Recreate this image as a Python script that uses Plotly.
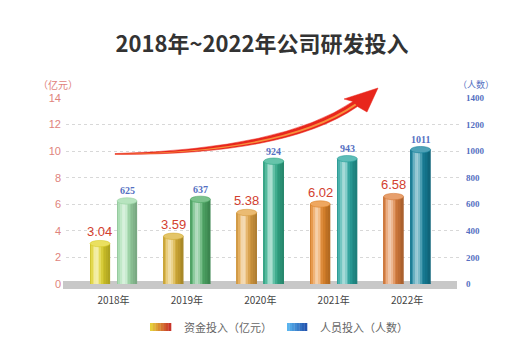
import math
import plotly.graph_objects as go

categories = ["2018年", "2019年", "2020年", "2021年", "2022年"]
funds = [3.04, 3.59, 5.38, 6.02, 6.58]          # 资金投入（亿元）
staff = [625, 637, 924, 943, 1011]              # 人员投入（人数）
left_ticks = [0, 2, 4, 6, 8, 10, 12, 14]
right_ticks = [0, 200, 400, 600, 800, 1000, 1200, 1400]

fund_colors = ["#e3d62c", "#dcb236", "#e5a544", "#e98a2c", "#df7f3c"]
staff_colors = ["#9fdcaa", "#4fae68", "#34b18e", "#27a6a0", "#15849f"]

W, H = 524, 356
L, R, T, B = 66, 65, 98, 72
PW, PH = W - L - R, H - T - B

def px(x):
    return (x - L) / PW

def py(y):
    return (H - B - y) / PH

def hex2rgb(h):
    h = h.lstrip("#")
    return [int(h[i:i + 2], 16) for i in (0, 2, 4)]

def shade(h, t):
    r = hex2rgb(h)
    light = 0.6 * math.exp(-((t - 0.35) / 0.2) ** 2)
    dark = 0.25 * max(0.0, t - 0.5) * 2 + 0.12 * max(0.0, 0.15 - t) / 0.15
    out = []
    for c in r:
        c = c + (255 - c) * light
        c = c * (1 - dark)
        out.append(int(max(0, min(255, c))))
    return "rgb(%d,%d,%d)" % tuple(out)

def adjust(h, f):
    r = hex2rgb(h)
    if f >= 0:
        r = [int(c + (255 - c) * f) for c in r]
    else:
        r = [int(c * (1 + f)) for c in r]
    return "rgb(%d,%d,%d)" % tuple(r)

xs = list(range(len(categories)))
BW = 0.272
OFF = 0.184
N = 12

fig = go.Figure()
shapes = []

# floor
shapes.append(dict(type="rect", xref="paper", yref="paper", x0=px(63), x1=px(457),
                   y0=py(289), y1=py(281), fillcolor="#c8c8c8", line_width=0, layer="below"))

def add_bars(vals, colors, center_off, yaxis, capmul):
    yref = "y" if yaxis == "y" else "y2"
    for i in range(N):
        t = (i + 0.5) / N
        fig.add_trace(go.Bar(
            x=xs, y=vals, yaxis=yaxis, width=BW / N + 0.002,
            offset=center_off - BW / 2 + i * BW / N,
            marker=dict(color=[shade(c, t) for c in colors], line_width=0),
            showlegend=False, hoverinfo="skip"))
    eh = 3.2 * capmul
    for x, v, c in zip(xs, vals, colors):
        cx = x + center_off
        shapes.append(dict(type="circle", xref="x", yref=yref,
                           x0=cx - BW / 2, x1=cx + BW / 2, y0=-eh, y1=eh,
                           fillcolor=adjust(c, -0.1), line_width=0, layer="below"))
        shapes.append(dict(type="circle", xref="x", yref=yref,
                           x0=cx - BW / 2, x1=cx + BW / 2, y0=v - eh, y1=v + eh,
                           fillcolor=adjust(c, 0.25), line=dict(color=adjust(c, -0.05), width=0.6),
                           layer="above"))

add_bars(funds, fund_colors, -OFF, "y", 14 / PH)
add_bars(staff, staff_colors, OFF, "y2", 1400 / PH)

annotations = []
for x, v in zip(xs, funds):
    annotations.append(dict(x=x - OFF, y=v, xref="x", yref="y", text="%.2f" % v,
                            showarrow=False, yshift=12,
                            font=dict(family="Liberation Sans, Arial", size=13, color="#d2402f")))
for x, v in zip(xs, staff):
    annotations.append(dict(x=x + OFF, y=v, xref="x", yref="y2", text=str(v),
                            showarrow=False, yshift=10,
                            font=dict(family="Liberation Serif", size=10, color="#5570c2", weight="bold")))

annotations.append(dict(x=px(58), y=py(84), xref="paper", yref="paper", text="（亿元）",
                        xanchor="center", yanchor="middle",
                        showarrow=False, font=dict(family="Noto Sans CJK SC", size=10, color="#e0837c")))
annotations.append(dict(x=px(476), y=py(84), xref="paper", yref="paper", text="（人数）",
                        xanchor="center", yanchor="middle",
                        showarrow=False, font=dict(family="Noto Sans CJK SC", size=9, color="#5570c2")))

# arrow (decoration)
def P(x, y):
    return "%.4f,%.4f" % (px(x), py(y))

U0, UC, U1 = (115, 153.6), (283, 149), (353, 101.5)
D0, DC, D1 = (115, 154.4), (287, 155.5), (357.5, 106.5)

def mix(a, b, f):
    return (a[0] + (b[0] - a[0]) * f, a[1] + (b[1] - a[1]) * f)

shaft = ("M " + P(*U0) + " Q " + P(*UC) + " " + P(*U1) +
         " L " + P(344, 99) + " L " + P(378, 88) + " L " + P(367, 112) +
         " L " + P(*D1) + " Q " + P(*DC) + " " + P(*D0) + " Z")
shapes.append(dict(type="path", xref="paper", yref="paper", path=shaft,
                   fillcolor="#e8261c", line=dict(color="#e8261c", width=0.5)))
A0, AC, A1 = mix(U0, D0, 0.45), mix(UC, DC, 0.45), mix(U1, D1, 0.45)
B0, BC, B1 = mix(U0, D0, 0.75), mix(UC, DC, 0.75), mix(U1, D1, 0.75)
inner = ("M " + P(*A0) + " Q " + P(*AC) + " " + P(*A1) +
         " L " + P(*B1) + " Q " + P(*BC) + " " + P(*B0) + " Z")
shapes.append(dict(type="path", xref="paper", yref="paper", path=inner,
                   fillcolor="#f6903c", line_width=0))

# legend (custom gradient swatches)
def swatch(x0, x1, c0, c1):
    a, b = hex2rgb(c0), hex2rgb(c1)
    n = 8
    for i in range(n):
        f = i / (n - 1)
        col = "rgb(%d,%d,%d)" % tuple(int(a[k] + (b[k] - a[k]) * f) for k in range(3))
        shapes.append(dict(type="rect", xref="paper", yref="paper",
                           x0=px(x0 + (x1 - x0) * i / n), x1=px(x0 + (x1 - x0) * (i + 1) / n + 0.3),
                           y0=py(331), y1=py(323), fillcolor=col, line_width=0))

swatch(150, 171, "#e6cf3a", "#c8342a")
swatch(287, 307, "#5ab4ee", "#2456b0")
annotations.append(dict(x=px(182), y=py(327), xref="paper", yref="paper",
                        xanchor="left", yanchor="middle",
                        text="资金投入（亿元）", showarrow=False,
                        font=dict(family="Noto Sans CJK SC", size=11, color="#666666")))
annotations.append(dict(x=px(318), y=py(327), xref="paper", yref="paper",
                        xanchor="left", yanchor="middle",
                        text="人员投入（人数）", showarrow=False,
                        font=dict(family="Noto Sans CJK SC", size=11, color="#666666")))

fig.update_layout(
    width=W, height=H, margin=dict(l=L, r=R, t=T, b=B),
    paper_bgcolor="white", plot_bgcolor="white",
    barmode="overlay", showlegend=False,
    title=dict(text="2018年~2022年公司研发投入", x=0.5, xanchor="center", y=1 - 44 / H, yanchor="middle",
               font=dict(family="Noto Sans CJK SC", size=22, color="#333333", weight="bold")),
    xaxis=dict(range=[-0.647, 4.707], tickvals=xs, ticktext=categories, showgrid=False,
               zeroline=False, showline=False, ticks="", ticklabelstandoff=9,
               tickfont=dict(family="Noto Sans CJK SC, Liberation Sans", size=10, color="#444444")),
    yaxis=dict(range=[0, 14], tickvals=left_ticks, showgrid=True, gridcolor="#d8d8d8",
               griddash="dot", gridwidth=1, zeroline=False, showline=False, ticks="",
               ticklabelstandoff=4,
               tickfont=dict(family="Liberation Sans, Arial", size=11, color="#e0837c")),
    yaxis2=dict(range=[0, 1400], tickvals=right_ticks, overlaying="y", side="right",
                showgrid=False, zeroline=False, showline=False, ticks="", ticklabelstandoff=6,
                tickfont=dict(family="Liberation Serif", size=9, color="#5570c2", weight="bold")),
    shapes=shapes, annotations=annotations,
)

fig.write_html("out.html", config={"displayModeBar": False},
               post_script="document.body.style.margin='0';document.body.style.padding='0';")
